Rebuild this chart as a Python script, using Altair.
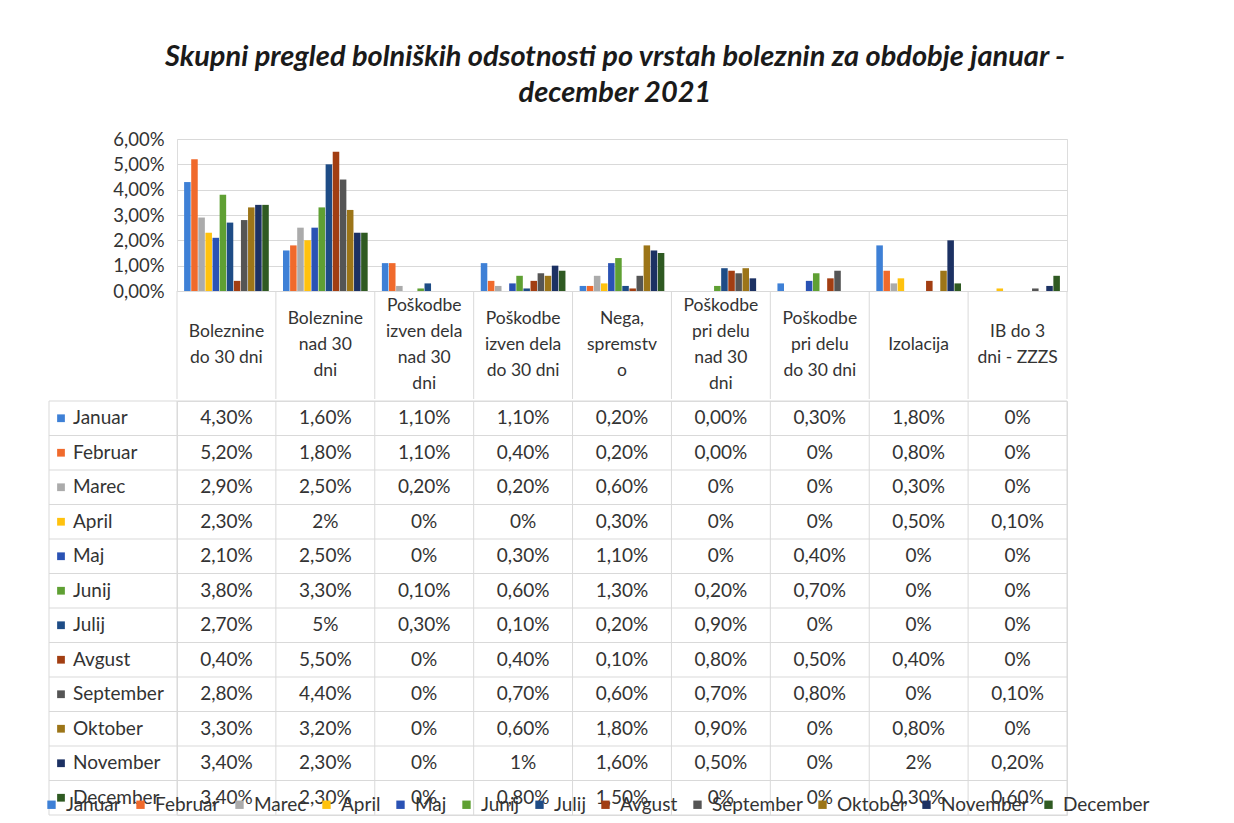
import altair as alt
import pandas as pd

meseci = ["Januar", "Februar", "Marec", "April", "Maj", "Junij", "Julij",
          "Avgust", "September", "Oktober", "November", "December"]

kategorije = ["Boleznine do 30 dni", "Boleznine nad 30 dni",
              "Poškodbe izven dela nad 30 dni", "Poškodbe izven dela do 30 dni",
              "Nega, spremstvo", "Poškodbe pri delu nad 30 dni",
              "Poškodbe pri delu do 30 dni", "Izolacija", "IB do 3 dni - ZZZS"]

glave = ["Boleznine\ndo 30 dni", "Boleznine\nnad 30\ndni",
         "Poškodbe\nizven dela\nnad 30\ndni", "Poškodbe\nizven dela\ndo 30 dni",
         "Nega,\nspremstv\no", "Poškodbe\npri delu\nnad 30\ndni",
         "Poškodbe\npri delu\ndo 30 dni", "Izolacija", "IB do 3\ndni - ZZZS"]

januar = ["4,30%", "1,60%", "1,10%", "1,10%", "0,20%", "0,00%", "0,30%", "1,80%", "0%"]
februar = ["5,20%", "1,80%", "1,10%", "0,40%", "0,20%", "0,00%", "0%", "0,80%", "0%"]
marec = ["2,90%", "2,50%", "0,20%", "0,20%", "0,60%", "0%", "0%", "0,30%", "0%"]
april = ["2,30%", "2%", "0%", "0%", "0,30%", "0%", "0%", "0,50%", "0,10%"]
maj = ["2,10%", "2,50%", "0%", "0,30%", "1,10%", "0%", "0,40%", "0%", "0%"]
junij = ["3,80%", "3,30%", "0,10%", "0,60%", "1,30%", "0,20%", "0,70%", "0%", "0%"]
julij = ["2,70%", "5%", "0,30%", "0,10%", "0,20%", "0,90%", "0%", "0%", "0%"]
avgust = ["0,40%", "5,50%", "0%", "0,40%", "0,10%", "0,80%", "0,50%", "0,40%", "0%"]
september = ["2,80%", "4,40%", "0%", "0,70%", "0,60%", "0,70%", "0,80%", "0%", "0,10%"]
oktober = ["3,30%", "3,20%", "0%", "0,60%", "1,80%", "0,90%", "0%", "0,80%", "0%"]
november = ["3,40%", "2,30%", "0%", "1%", "1,60%", "0,50%", "0%", "2%", "0,20%"]
december = ["3,40%", "2,30%", "0%", "0,80%", "1,50%", "0%", "0%", "0,30%", "0,60%"]

tabela = [januar, februar, marec, april, maj, junij, julij, avgust,
          september, oktober, november, december]

barve = ["#3E80D6", "#F06A2C", "#ABABAB", "#FFC20E", "#2A52B4", "#5FA033",
         "#1E4C86", "#A23E12", "#555555", "#9C7518", "#1C3163", "#2F5A22"]

y_vrednosti = [0, 0.01, 0.02, 0.03, 0.04, 0.05, 0.06]

FONT = "Lato"
GRID = "#d9d9d9"
TXT = "#333333"


def parse(s):
    return float(s.replace("%", "").replace(",", ".")) / 100.0


zapisi = []
for m, vrstica in zip(meseci, tabela):
    for k, s in zip(kategorije, vrstica):
        zapisi.append({"mesec": m, "kategorija": k, "oznaka": s, "vrednost": parse(s)})
df = pd.DataFrame(zapisi)
df_glave = pd.DataFrame({"kategorija": kategorije, "glava": glave})
df_kat = pd.DataFrame({"kategorija": kategorije})
df_zadnja = pd.DataFrame({"kategorija": [kategorije[-1]]})
df_mes = pd.DataFrame({"mesec": meseci})
df_zadnji = pd.DataFrame({"mesec": [meseci[-1]]})

W = 890
H_BAR = 152
H_HEAD = 108
H_TAB = 414
LH = 26

xscale = alt.Scale(domain=kategorije, paddingInner=0, paddingOuter=0)
barva = alt.Color(
    "mesec:N",
    sort=meseci,
    scale=alt.Scale(domain=meseci, range=barve),
    legend=alt.Legend(
        title=None, orient="none", direction="horizontal", columns=12,
        legendX=-135, legendY=656, symbolType="square", symbolSize=70,
        symbolStrokeWidth=0, labelFontSize=19, labelColor=TXT, labelFont=FONT,
        columnPadding=10, symbolOffset=0, labelOffset=5,
    ),
)


def xk(bp=None):
    if bp is None:
        return alt.X("kategorija:N", sort=kategorije, scale=xscale, axis=None)
    return alt.X("kategorija:N", sort=kategorije, scale=xscale, axis=None, bandPosition=bp)


stolpci = alt.Chart(df).mark_bar().encode(
    x=xk(),
    xOffset=alt.XOffset("mesec:N", sort=meseci,
                        scale=alt.Scale(domain=meseci, paddingInner=0.08, paddingOuter=1.0)),
    y=alt.Y("vrednost:Q", scale=alt.Scale(domain=[0, 0.06]),
            axis=alt.Axis(values=y_vrednosti, title=None, grid=True, gridColor=GRID,
                          domain=False, ticks=False, labelFontSize=18.5, labelFont=FONT,
                          labelColor=TXT, labelPadding=13,
                          labelExpr="replace(format(datum.value, '.2%'), '.', ',')")),
    color=barva,
)

glava_txt = alt.Chart(df_glave).transform_calculate(
    py=f"{H_BAR + H_HEAD / 2} - (length(split(datum.glava, '\\n')) - 1) * {LH / 2}"
).mark_text(
    lineBreak="\n", baseline="middle", align="center", fontSize=17.5, font=FONT,
    color=TXT, lineHeight=LH,
).encode(x=xk(0.5), y=alt.Y("py:Q", scale=None, axis=None), text="glava:N")

glava_crte = alt.Chart(df_kat).mark_rule(color=GRID, strokeWidth=1).encode(
    x=xk(0), y=alt.value(H_BAR), y2=alt.value(H_BAR + H_HEAD))
glava_crta_desno = alt.Chart(df_zadnja).mark_rule(color=GRID, strokeWidth=1).encode(
    x=xk(1), y=alt.value(H_BAR), y2=alt.value(H_BAR + H_HEAD))

zgoraj = alt.layer(glava_crte, glava_crta_desno, stolpci, glava_txt).resolve_scale(
    y="independent").properties(width=W, height=H_BAR)

yscale = alt.Scale(domain=meseci, paddingInner=0, paddingOuter=0)


def ym(bp=None):
    if bp is None:
        return alt.Y("mesec:N", sort=meseci, scale=yscale, axis=None)
    return alt.Y("mesec:N", sort=meseci, scale=yscale, axis=None, bandPosition=bp)


vodoravne = alt.Chart(df_mes).mark_rule(color=GRID, strokeWidth=1).encode(
    y=ym(0), x=alt.value(-128), x2=alt.value(W))
vodoravna_spodaj = alt.Chart(df_zadnji).mark_rule(color=GRID, strokeWidth=1).encode(
    y=ym(1), x=alt.value(-128), x2=alt.value(W))
navpicne = alt.Chart(df_kat).mark_rule(color=GRID, strokeWidth=1).encode(
    x=xk(0), y=alt.value(0), y2=alt.value(H_TAB))
navpicna_desno = alt.Chart(df_zadnja).mark_rule(color=GRID, strokeWidth=1).encode(
    x=xk(1), y=alt.value(0), y2=alt.value(H_TAB))
navpicna_levo = alt.Chart(df_zadnja).mark_rule(color=GRID, strokeWidth=1).encode(
    x=alt.value(-128), y=alt.value(0), y2=alt.value(H_TAB))

vrednosti_txt = alt.Chart(df).mark_text(
    fontSize=19, font=FONT, color=TXT, baseline="middle"
).encode(x=xk(0.5), y=ym(0.5), text="oznaka:N")

kvadrati = alt.Chart(df_mes).mark_square(size=60, opacity=1).encode(
    x=alt.value(-116), y=ym(0.5), color=barva)

imena = alt.Chart(df_mes).mark_text(
    fontSize=19, font=FONT, color=TXT, align="left", baseline="middle"
).encode(x=alt.value(-104), y=ym(0.5), text="mesec:N")

tabela_ch = alt.layer(vodoravne, vodoravna_spodaj, navpicne, navpicna_desno, navpicna_levo,
                      vrednosti_txt, kvadrati, imena).properties(width=W, height=H_TAB)

chart = alt.vconcat(zgoraj, tabela_ch, spacing=0).properties(
    title=alt.TitleParams(
        ["Skupni pregled bolniških odsotnosti po vrstah boleznin za obdobje januar -",
         "december 2021"],
        fontSize=29, font=FONT, fontStyle="italic", fontWeight="bold",
        color="#1a1a1a", anchor="middle", lineHeight=36, offset=22, dx=19,
    ),
    padding={"left": 34, "top": 34, "right": 5, "bottom": 0},
).configure_view(stroke=None).configure(font=FONT)

chart.save("out.html", embed_options={"renderer": "svg", "actions": False})
